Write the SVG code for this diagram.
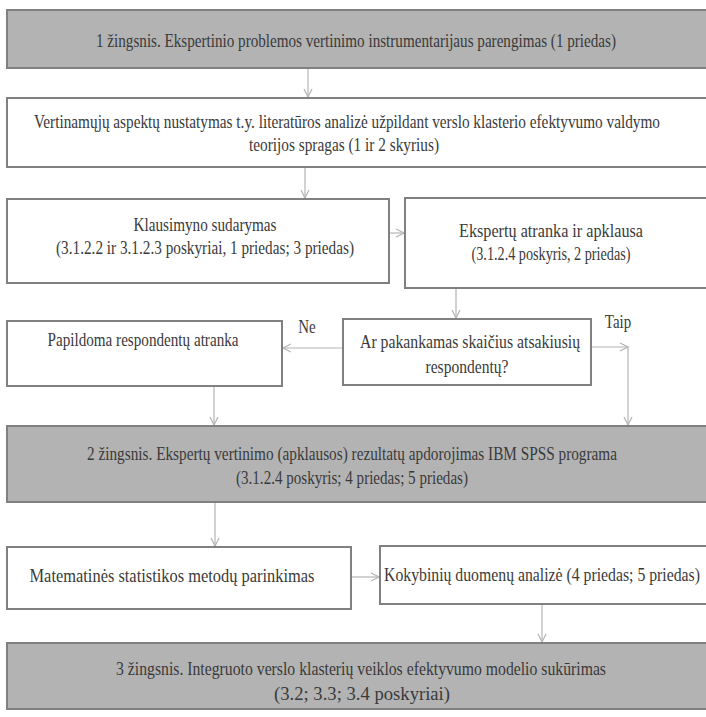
<svg xmlns="http://www.w3.org/2000/svg" width="706" height="717" viewBox="0 0 706 717">
<defs>
<style>
.box{fill:#ffffff;stroke:#808080;stroke-width:2}
.step{fill:#b3b3b3;stroke:#808080;stroke-width:2}
text{font-family:"Liberation Serif","Times New Roman",serif;font-size:15px;fill:#3a3a3a;text-anchor:middle}
.c{fill:none;stroke:#b4b4b4;stroke-width:1.2}
</style>
<marker id="ah" viewBox="0 0 10 10" refX="9" refY="5" markerWidth="10" markerHeight="10" markerUnits="userSpaceOnUse" orient="auto">
<path d="M1,1 L9,5 L1,9" fill="none" stroke="#b4b4b4" stroke-width="1.2"/>
</marker>
</defs>
<rect width="706" height="717" fill="#ffffff"/>
<g id="connectors">
<line class="c" x1="308" y1="69" x2="308" y2="97" marker-end="url(#ah)"/>
<line class="c" x1="305" y1="168" x2="305" y2="198" marker-end="url(#ah)"/>
<line class="c" x1="390" y1="233" x2="404" y2="233" marker-end="url(#ah)"/>
<line class="c" x1="456" y1="289" x2="456" y2="318" marker-end="url(#ah)"/>
<line class="c" x1="342" y1="348" x2="283" y2="348" marker-end="url(#ah)"/>
<line class="c" x1="592" y1="347" x2="628" y2="347" marker-end="url(#ah)"/>
<line class="c" x1="628" y1="347" x2="628" y2="425" marker-end="url(#ah)"/>
<line class="c" x1="214" y1="387" x2="214" y2="425" marker-end="url(#ah)"/>
<line class="c" x1="215" y1="503" x2="215" y2="546" marker-end="url(#ah)"/>
<line class="c" x1="352" y1="577" x2="379" y2="577" marker-end="url(#ah)"/>
<line class="c" x1="542" y1="605" x2="542" y2="642" marker-end="url(#ah)"/>
<text transform="translate(307,333) scale(1,1.2)">Ne</text>
<text transform="translate(618,328) scale(1,1.2)">Taip</text>
</g>
<g id="step1">
<rect class="step" x="7" y="10" width="700" height="58"/>
<text transform="translate(356,47) scale(1,1.2)" textLength="520" lengthAdjust="spacingAndGlyphs">1 žingsnis. Ekspertinio problemos vertinimo instrumentarijaus parengimas (1 priedas)</text>
</g>
<g id="aspektai">
<rect class="box" x="7" y="98" width="700" height="69"/>
<text transform="translate(347,128) scale(1,1.2)" textLength="626" lengthAdjust="spacingAndGlyphs">Vertinamųjų aspektų nustatymas t.y. literatūros analizė užpildant verslo klasterio efektyvumo valdymo</text>
<text transform="translate(344,151) scale(1,1.2)" textLength="190" lengthAdjust="spacingAndGlyphs">teorijos spragas (1 ir 2 skyrius)</text>
</g>
<g id="klausimynas">
<rect class="box" x="7" y="199" width="382" height="84"/>
<text transform="translate(205,231) scale(1,1.2)" textLength="143" lengthAdjust="spacingAndGlyphs">Klausimyno sudarymas</text>
<text transform="translate(205,254) scale(1,1.2)" textLength="298" lengthAdjust="spacingAndGlyphs">(3.1.2.2 ir 3.1.2.3 poskyriai, 1 priedas; 3 priedas)</text>
</g>
<g id="ekspertai">
<rect class="box" x="405" y="198" width="302" height="90"/>
<text transform="translate(551,237) scale(1,1.2)" textLength="184" lengthAdjust="spacingAndGlyphs">Ekspertų atranka ir apklausa</text>
<text transform="translate(551,260) scale(1,1.2)" textLength="159" lengthAdjust="spacingAndGlyphs">(3.1.2.4 poskyris, 2 priedas)</text>
</g>
<g id="papildoma">
<rect class="box" x="7" y="321" width="275" height="65"/>
<text transform="translate(143,346) scale(1,1.2)" textLength="191" lengthAdjust="spacingAndGlyphs">Papildoma respondentų atranka</text>
</g>
<g id="klausimas">
<rect class="box" x="343" y="319" width="248" height="66"/>
<text transform="translate(470,348) scale(1,1.2)" textLength="220" lengthAdjust="spacingAndGlyphs">Ar pakankamas skaičius atsakiusių</text>
<text transform="translate(467,373) scale(1,1.2)" textLength="83" lengthAdjust="spacingAndGlyphs">respondentų?</text>
</g>
<g id="step2">
<rect class="step" x="7" y="426" width="700" height="76"/>
<text transform="translate(352,460) scale(1,1.2)" textLength="530" lengthAdjust="spacingAndGlyphs">2 žingsnis. Ekspertų vertinimo (apklausos) rezultatų apdorojimas IBM SPSS programa</text>
<text transform="translate(352,484) scale(1,1.2)" textLength="232" lengthAdjust="spacingAndGlyphs">(3.1.2.4 poskyris; 4 priedas; 5 priedas)</text>
</g>
<g id="matematines">
<rect class="box" x="7" y="547" width="344" height="62"/>
<text transform="translate(172,582) scale(1,1.2)" textLength="285" lengthAdjust="spacingAndGlyphs">Matematinės statistikos metodų parinkimas</text>
</g>
<g id="kokybiniu">
<rect class="box" x="380" y="546" width="327" height="58"/>
<text transform="translate(542,581) scale(1,1.2)" textLength="316" lengthAdjust="spacingAndGlyphs">Kokybinių duomenų analizė (4 priedas; 5 priedas)</text>
</g>
<g id="step3">
<rect class="step" x="7" y="643" width="700" height="66"/>
<text transform="translate(361,675) scale(1,1.2)" textLength="490" lengthAdjust="spacingAndGlyphs">3 žingsnis. Integruoto verslo klasterių veiklos efektyvumo modelio sukūrimas</text>
<text transform="translate(362,700) scale(1,1.2)" textLength="176" lengthAdjust="spacingAndGlyphs">(3.2; 3.3; 3.4 poskyriai)</text>
</g>
</svg>
